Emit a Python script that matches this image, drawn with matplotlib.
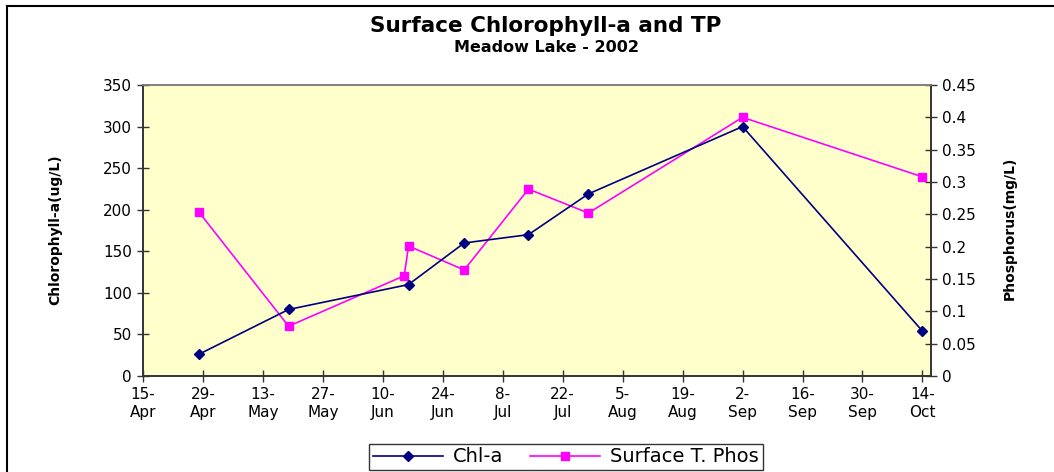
import matplotlib
matplotlib.use("Agg")
import matplotlib.pyplot as plt
from matplotlib.lines import Line2D
import datetime as dt

plt.rcParams['font.family'] = ['DejaVu Sans']

# ---- data ----
chl_dates = ["2002-04-28", "2002-05-19", "2002-06-16", "2002-06-29", "2002-07-14",
             "2002-07-28", "2002-09-02", "2002-10-14"]
chl_values = [26, 80, 110, 160, 170, 219, 300, 54]

tp_dates = ["2002-04-28", "2002-05-19", "2002-06-15", "2002-06-16", "2002-06-29",
            "2002-07-14", "2002-07-28", "2002-09-02", "2002-10-14"]
tp_values = [0.254, 0.077, 0.155, 0.201, 0.164, 0.289, 0.252, 0.400, 0.308]

tick_labels = ["15-\nApr", "29-\nApr", "13-\nMay", "27-\nMay", "10-\nJun", "24-\nJun",
               "8-\nJul", "22-\nJul", "5-\nAug", "19-\nAug", "2-\nSep", "16-\nSep",
               "30-\nSep", "14-\nOct"]

title = "Surface Chlorophyll-a and TP"
subtitle = "Meadow Lake - 2002"
left_label = "Chlorophyll-a(ug/L)"
right_label = "Phosphorus(mg/L)"
series_names = ["Chl-a", "Surface T. Phos"]

# ---- figure ----
W, H = 1054, 472
fig = plt.figure(figsize=(W / 100, H / 100), dpi=100)

def fx(px):
    return px / W

def fy(py):
    return 1 - py / H

# outer chart border (top and left visible)
fig.add_artist(Line2D([fx(7), 1.0], [fy(6), fy(6)], color="black", lw=1.5,
                      transform=fig.transFigure))
fig.add_artist(Line2D([fx(7), fx(7)], [fy(6), 0.0], color="black", lw=1.5,
                      transform=fig.transFigure))

ax = fig.add_axes([fx(143), fy(376), fx(931) - fx(143), fy(85) - fy(376)])

to_dt = lambda s: dt.datetime.strptime(s, "%Y-%m-%d")
cd = [to_dt(s) for s in chl_dates]
td = [to_dt(s) for s in tp_dates]

navy = "#000080"
mag = "#FF00FF"

l1, = ax.plot(cd, chl_values, color=navy, lw=1.2, marker="D", ms=5.5,
              markerfacecolor=navy, markeredgecolor=navy, zorder=4)
ax2 = ax.twinx()
l2, = ax2.plot(td, tp_values, color=mag, lw=1.2, marker="s", ms=6,
               markerfacecolor=mag, markeredgecolor=mag, zorder=3)
ax.patch.set_visible(False)
ax2.patch.set_visible(True)
ax2.set_facecolor("#FFFFCC")
ax.set_zorder(2)
ax2.set_zorder(1)

start = dt.datetime(2002, 4, 15)
ticks = [start + dt.timedelta(days=14 * i) for i in range(len(tick_labels))]
ax.set_xlim(start, dt.datetime(2002, 10, 16))
ax.set_xticks(ticks)
ax.set_xticklabels(tick_labels, fontsize=11, linespacing=1.25)

ax.set_ylim(0, 350)
ax.set_yticks(range(0, 351, 50))
ax2.set_ylim(0, 0.45)
ax2.set_yticks([0, 0.05, 0.1, 0.15, 0.2, 0.25, 0.3, 0.35, 0.4, 0.45])
ax2.set_yticklabels(["0", "0.05", "0.1", "0.15", "0.2", "0.25", "0.3", "0.35", "0.4", "0.45"])

for a in (ax, ax2):
    a.tick_params(axis="both", direction="inout", length=8, width=1, colors="#333333",
                  labelsize=11, labelcolor="black")
ax.tick_params(axis="x", pad=4)
ax.tick_params(axis="y", pad=4)
ax2.tick_params(axis="y", pad=4)

for a in (ax, ax2):
    a.spines["top"].set_color("#808080")
    a.spines["left"].set_color("#333333")
    a.spines["right"].set_color("#333333")
    a.spines["bottom"].set_color("#333333")
    for s in a.spines.values():
        s.set_linewidth(1.2)

fig.text(fx(55), fy(230), left_label, rotation=90, ha="center", va="center",
         fontsize=10, fontweight="bold")
fig.text(fx(1010), fy(228), right_label, rotation=90, ha="center", va="center",
         fontsize=10, fontweight="bold")

fig.text(fx(546), fy(26), title, ha="center", va="center", fontsize=15.5,
         fontweight="bold")
fig.text(fx(546), fy(47), subtitle, ha="center", va="center", fontsize=11.5,
         fontweight="bold")

leg = fig.legend([l1, l2], series_names, loc="center", bbox_to_anchor=(fx(566), fy(457)),
                 ncol=2, fontsize=14, frameon=True, fancybox=False, edgecolor="black",
                 handlelength=3.6, columnspacing=1.4, borderpad=0.2, handletextpad=0.5,
                 markerscale=1.0)
leg.get_frame().set_linewidth(1.0)

fig.savefig("out.png", dpi=100)
